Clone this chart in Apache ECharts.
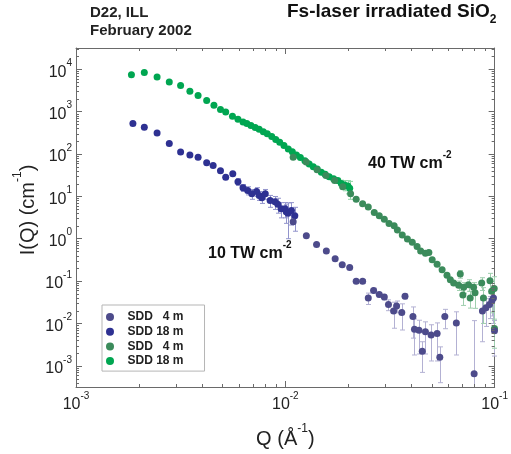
<!DOCTYPE html>
<html><head><meta charset="utf-8">
<script src="https://cdn.jsdelivr.net/npm/echarts@6/dist/echarts.min.js"></script>
<style>html,body{margin:0;padding:0;background:#fff}#c{width:511px;height:454px}</style>
</head><body><div id="c"></div>
<script>
const FONT = 'Liberation Sans, Arial, Helvetica, sans-serif';

// axis ranges (decades)
const xRange = [1e-3, 1e-1];
const yRange = [Math.pow(10, -3.5), Math.pow(10, 4.5)];
const xDecades = [-3, -2];
const yDecades = [-4, -3, -2, -1, 0, 1, 2, 3, 4];
const minorMultipliers = [2, 3, 4, 5, 6, 7, 8, 9];

const legendNames = ['b4', 'b18', 'g4', 'g18'];
const legendLabels = ['SDD   4 m', 'SDD 18 m', 'SDD   4 m', 'SDD 18 m'];
const colors = ['#4d4b8b', '#2e3192', '#3b8b5b', '#00a651'];
const errColors = ['#b3b1d3', '#9294cc', '#9fcfae', '#8fd5a6'];

// 10 TW cm-2, SDD 18 m
const b18Q = [1.87e-3, 2.12e-3, 2.44e-3, 2.79e-3, 3.16e-3, 3.50e-3, 3.83e-3, 4.21e-3, 4.52e-3, 4.90e-3,
  5.19e-3, 5.61e-3, 5.94e-3, 6.28e-3, 6.61e-3, 6.92e-3, 7.29e-3, 7.50e-3, 7.72e-3, 8.02e-3,
  8.46e-3, 8.93e-3, 9.20e-3, 9.55e-3, 9.97e-3, 1.01e-2, 1.03e-2, 1.07e-2, 1.11e-2];
const b18I = [520, 425, 313, 177, 111, 94, 83, 62, 53, 40,
  28, 34, 22, 16, 13.8, 11.5, 13, 10.5, 9.3, 11.5,
  8.0, 7.4, 6.5, 5.1, 5.1, 4.3, 4.0, 4.6, 3.5];
const b18E = [0, 0, 0, 0, 0, 0, 0, 0, 0, 0,
  0, 0, 4, 3, 3, 3, 3, 2.5, 2.5, 3,
  2.5, 2.5, 2.5, 2, 2, 2, 3, 2.5, 2];

// 10 TW cm-2, SDD 4 m
const b4Q = [1.09e-2, 1.26e-2, 1.41e-2, 1.57e-2, 1.73e-2, 1.87e-2, 2.03e-2, 2.18e-2, 2.34e-2, 2.49e-2,
  2.64e-2, 2.81e-2, 2.97e-2, 3.11e-2, 3.29e-2, 3.40e-2, 3.60e-2, 3.73e-2, 4.07e-2, 4.14e-2,
  4.35e-2, 4.51e-2, 4.67e-2, 4.97e-2, 5.31e-2, 5.47e-2, 5.78e-2, 6.56e-2, 7.98e-2, 8.74e-2,
  9.09e-2, 9.45e-2, 9.71e-2, 9.87e-2, 9.98e-2];
const b4I = [2.5, 1.17, 0.73, 0.515, 0.335, 0.242, 0.21, 0.099, 0.099, 0.040,
  0.060, 0.048, 0.042, 0.028, 0.0197, 0.0258, 0.018, 0.044, 0.0145, 0.0073,
  0.0069, 0.0022, 0.0064, 0.0053, 0.0058, 0.0016, 0.0145, 0.0103, 0.00065, 0.0197,
  0.0235, 0.028, 0.035, 0.040, 0.0067];
const b4E = [0, 0, 0, 0, 0, 0, 0, 0.01, 0.01, 0.012,
  0.008, 0.006, 0.006, 0.008, 0.012, 0.008, 0.011, 0.006, 0.01, 0.0055,
  0.005, 0.0015, 0.0045, 0.004, 0.0045, 0.0012, 0.007, 0.0085, 0.011, 0.016,
  0.015, 0.015, 0.02, 0.03, 0.005];

// 40 TW cm-2, SDD 18 m
const g18Q = [1.84e-3, 2.12e-3, 2.44e-3, 2.79e-3, 3.16e-3, 3.50e-3, 3.83e-3, 4.21e-3, 4.56e-3, 4.90e-3,
  5.19e-3, 5.59e-3, 5.94e-3, 6.28e-3, 6.55e-3, 6.85e-3, 7.18e-3, 7.50e-3, 7.85e-3, 8.20e-3,
  8.61e-3, 9.00e-3, 9.40e-3, 9.85e-3, 1.033e-2, 1.08e-2, 1.13e-2, 1.18e-2, 1.24e-2, 1.30e-2,
  1.36e-2, 1.42e-2, 1.486e-2, 1.55e-2, 1.62e-2, 1.70e-2, 1.78e-2, 1.85e-2, 1.92e-2, 1.99e-2, 2.03e-2];
const g18I = [7400, 8300, 6500, 5000, 4100, 3000, 2400, 1820, 1410, 1120,
  970, 770, 655, 566, 520, 470, 419, 380, 335, 298,
  258, 220, 188, 158, 130, 112, 95, 82, 69, 58,
  50, 44, 37, 33, 29, 26, 23.6, 20, 18.5, 17.4, 15.5];
const g18E = [0, 0, 0, 0, 0, 0, 0, 0, 0, 0,
  0, 0, 0, 0, 0, 0, 0, 0, 0, 0,
  0, 0, 0, 0, 0, 0, 0, 0, 0, 0,
  0, 0, 0, 0, 0, 2, 3, 4, 5, 6, 7];

// 40 TW cm-2, SDD 4 m
const g4Q = [1.09e-2, 1.258e-2, 1.418e-2, 1.563e-2, 1.72e-2, 1.88e-2, 2.05e-2, 2.18e-2, 2.34e-2, 2.49e-2,
  2.66e-2, 2.81e-2, 2.97e-2, 3.13e-2, 3.31e-2, 3.43e-2, 3.62e-2, 3.83e-2, 4.04e-2, 4.26e-2,
  4.43e-2, 4.67e-2, 4.85e-2, 5.03e-2, 5.31e-2, 5.61e-2, 5.92e-2, 6.14e-2, 6.37e-2, 6.73e-2,
  6.85e-2, 7.05e-2, 7.11e-2, 7.50e-2, 7.64e-2, 7.93e-2, 8.06e-2, 8.67e-2, 8.84e-2, 9.50e-2,
  9.68e-2, 9.95e-2, 9.98e-2];
const g4I = [83, 64.5, 42.6, 30.9, 23.6, 16.8, 11.5, 8.5, 6.7, 5.6,
  4.14, 3.47, 2.88, 2.29, 2.02, 1.6, 1.22, 0.98, 0.82, 0.65,
  0.515, 0.455, 0.47, 0.317, 0.251, 0.185, 0.137, 0.108, 0.090, 0.080,
  0.147, 0.0466, 0.0718, 0.0824, 0.040, 0.0718, 0.0527, 0.090, 0.040, 0.102,
  0.0578, 0.0665, 0.0076];
const g4E = [0, 0, 0, 0, 0, 0, 0, 0, 0, 0,
  0, 0, 0, 0, 0, 0, 0, 0, 0, 0,
  0, 0, 0, 0, 0, 0, 0, 0, 0, 0.02,
  0.03, 0.02, 0.02, 0.025, 0.017, 0.02, 0.03, 0.03, 0.03, 0.05,
  0.04, 0.06, 0.005];

const seriesQ = [b4Q, b18Q, g4Q, g18Q];
const seriesI = [b4I, b18I, g4I, g18I];
const seriesE = [b4E, b18E, g4E, g18E];

const chart = echarts.init(document.getElementById('c'), null, { renderer: 'canvas' });

function expLabel(v) {
  const e = Math.log10(v);
  const r = Math.round(e);
  if (Math.abs(e - r) > 1e-6) return '';
  return '{b|10}{s|' + r + '}';
}
const tickRich = {
  b: { fontSize: 16, fontFamily: FONT, color: '#222', lineHeight: 22, verticalAlign: 'bottom' },
  s: { fontSize: 10, fontFamily: FONT, color: '#222', lineHeight: 11, verticalAlign: 'top' }
};
const axisColor = '#6a6a6a';

// minor tick positions
const xMinor = [];
xDecades.forEach(d => minorMultipliers.forEach(m => xMinor.push([m * Math.pow(10, d), yRange[0]])));
const yMinor = [];
yDecades.forEach(d => minorMultipliers.forEach(m => {
  const v = m * Math.pow(10, d);
  if (v > yRange[0] && v < yRange[1]) yMinor.push([xRange[0], v]);
}));

const series = [];
// error bars
[0, 1, 2, 3].forEach(k => {
  const data = [];
  seriesQ[k].forEach((q, i) => { if (seriesE[k][i] > 0) data.push([q, seriesI[k][i], seriesE[k][i]]); });
  series.push({
    type: 'custom', name: 'err' + k, silent: true, z: 1, data: data,
    encode: { x: 0, y: 1 },
    renderItem: function (params, api) {
      const q = api.value(0), I = api.value(1), e = api.value(2);
      let lo = I - e, hi = I + e;
      const loClamp = !(lo > yRange[0]);
      if (loClamp) lo = yRange[0];
      if (hi > yRange[1]) hi = yRange[1];
      const p1 = api.coord([q, hi]), p2 = api.coord([q, lo]);
      const x = Math.round(p1[0]) + 0.5;
      const st = { stroke: errColors[k], lineWidth: 1 };
      const ch = [
        { type: 'line', shape: { x1: x, y1: p1[1], x2: x, y2: p2[1] }, style: st },
        { type: 'line', shape: { x1: x - 2.5, y1: p1[1], x2: x + 2.5, y2: p1[1] }, style: st }
      ];
      if (!loClamp) ch.push({ type: 'line', shape: { x1: x - 2.5, y1: p2[1], x2: x + 2.5, y2: p2[1] }, style: st });
      return { type: 'group', children: ch };
    }
  });
});
// scatter series: draw order g18, g4, b18, b4
[3, 2, 1, 0].forEach(k => {
  series.push({
    type: 'scatter', name: legendNames[k], z: 3,
    symbol: 'circle', symbolSize: 7,
    itemStyle: { color: colors[k], opacity: 1 },
    data: seriesQ[k].map((q, i) => [q, seriesI[k][i]])
  });
});
// minor ticks
series.push({
  type: 'custom', name: 'xminor', silent: true, z: 5, data: xMinor, encode: { x: 0, y: 1 },
  renderItem: function (params, api) {
    const pb = api.coord([api.value(0), yRange[0]]);
    const pt = api.coord([api.value(0), yRange[1]]);
    const x = Math.round(pb[0]) + 0.5;
    const st = { stroke: axisColor, lineWidth: 1 };
    return { type: 'group', children: [
      { type: 'line', shape: { x1: x, y1: pb[1], x2: x, y2: pb[1] - 3 }, style: st },
      { type: 'line', shape: { x1: x, y1: pt[1], x2: x, y2: pt[1] + 3 }, style: st }
    ] };
  }
});
series.push({
  type: 'custom', name: 'yminor', silent: true, z: 5, data: yMinor, encode: { x: 0, y: 1 },
  renderItem: function (params, api) {
    const pl = api.coord([xRange[0], api.value(1)]);
    const pr = api.coord([xRange[1], api.value(1)]);
    const y = Math.round(pl[1]) + 0.5;
    const st = { stroke: axisColor, lineWidth: 1 };
    return { type: 'group', children: [
      { type: 'line', shape: { x1: pl[0], y1: y, x2: pl[0] + 3, y2: y }, style: st },
      { type: 'line', shape: { x1: pr[0], y1: y, x2: pr[0] - 3, y2: y }, style: st }
    ] };
  }
});

const baseAxis = {
  type: 'log', logBase: 10,
  axisLine: { show: true, lineStyle: { color: axisColor, width: 1 } },
  axisTick: { show: true, inside: true, length: 6, lineStyle: { color: axisColor } },
  splitLine: { show: false },
  minorTick: { show: false }
};

const option = {
  animation: false,
  backgroundColor: '#fff',
  grid: { left: 76, right: 13, top: 48, bottom: 64, containLabel: false },
  xAxis: [
    Object.assign({}, baseAxis, {
      position: 'bottom', min: xRange[0], max: xRange[1],
      axisLabel: { formatter: expLabel, rich: tickRich, margin: 4, showMinLabel: true, showMaxLabel: true },
      name: '{a|Q (Å}{s|-1}{a|)}', nameLocation: 'middle', nameGap: 36,
      nameTextStyle: { rich: {
        a: { fontSize: 20, fontFamily: FONT, color: '#222', lineHeight: 26, verticalAlign: 'bottom' },
        s: { fontSize: 12, fontFamily: FONT, color: '#222', lineHeight: 14, verticalAlign: 'top' } } }
    }),
    Object.assign({}, baseAxis, {
      position: 'top', min: xRange[0], max: xRange[1], axisLabel: { show: false }
    })
  ],
  yAxis: [
    Object.assign({}, baseAxis, {
      position: 'left', min: yRange[0], max: yRange[1],
      axisLabel: { formatter: expLabel, rich: tickRich, margin: 4, showMinLabel: false, showMaxLabel: false }
    }),
    Object.assign({}, baseAxis, {
      position: 'right', min: yRange[0], max: yRange[1], axisLabel: { show: false }
    })
  ],
  legend: {
    orient: 'vertical', left: 102, top: 305,
    data: legendNames,
    formatter: function (n) { return legendLabels[legendNames.indexOf(n)]; },
    icon: 'circle', itemWidth: 25, itemHeight: 8, itemGap: 0.7,
    padding: [5, 21, 3, 4],
    borderColor: '#b5b5b5', borderWidth: 1, backgroundColor: '#fff',
    selectedMode: false,
    textStyle: { fontFamily: FONT, fontWeight: 'bold', fontSize: 12, color: '#222', lineHeight: 14 }
  },
  graphic: [
    { type: 'text', left: 90, top: 5, style: { text: 'D22, ILL', font: 'bold 15px ' + FONT, fill: '#222' } },
    { type: 'text', left: 90, top: 23, style: { text: 'February 2002', font: 'bold 15px ' + FONT, fill: '#222' } },
    { type: 'text', left: 287, top: 2, style: {
      text: '{a|Fs-laser irradiated SiO}{b|2}',
      rich: {
        a: { fontSize: 19, fontWeight: 'bold', fontFamily: FONT, fill: '#111', lineHeight: 24, verticalAlign: 'top' },
        b: { fontSize: 12, fontWeight: 'bold', fontFamily: FONT, fill: '#111', lineHeight: 12, verticalAlign: 'bottom' } } } },
    { type: 'text', left: 368, top: 150, style: {
      text: '{a|40 TW cm}{s|-2}',
      rich: {
        a: { fontSize: 16, fontWeight: 'bold', fontFamily: FONT, fill: '#111', lineHeight: 22, verticalAlign: 'bottom' },
        s: { fontSize: 10, fontWeight: 'bold', fontFamily: FONT, fill: '#111', lineHeight: 11, verticalAlign: 'top' } } } },
    { type: 'text', left: 208, top: 240, style: {
      text: '{a|10 TW cm}{s|-2}',
      rich: {
        a: { fontSize: 16, fontWeight: 'bold', fontFamily: FONT, fill: '#111', lineHeight: 22, verticalAlign: 'bottom' },
        s: { fontSize: 10, fontWeight: 'bold', fontFamily: FONT, fill: '#111', lineHeight: 11, verticalAlign: 'top' } } } },
    { type: 'text', x: 25, y: 210, rotation: Math.PI / 2, style: {
      text: '{a|I(Q) (cm}{s|-1}{a|)}', align: 'center', verticalAlign: 'middle',
      rich: {
        a: { fontSize: 20, fontFamily: FONT, fill: '#222', lineHeight: 26, verticalAlign: 'bottom' },
        s: { fontSize: 12, fontFamily: FONT, fill: '#222', lineHeight: 14, verticalAlign: 'top' } } } }
  ],
  series: series
};
chart.setOption(option);
</script></body></html>
